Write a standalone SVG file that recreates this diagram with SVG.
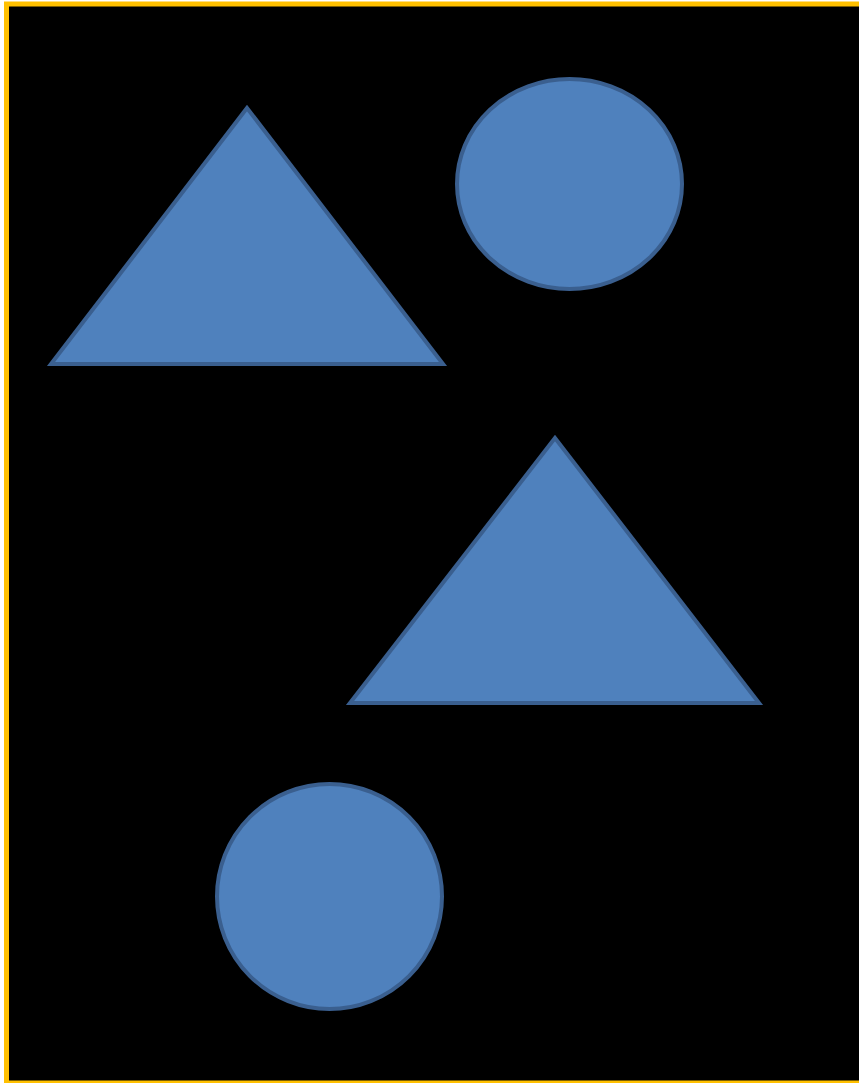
<svg xmlns="http://www.w3.org/2000/svg" width="859" height="1083" viewBox="0 0 859 1083">
<style>
.shape{fill:#4F81BD;stroke:#3A5F8F;stroke-width:4;stroke-linejoin:miter}
</style>
<rect x="0" y="0" width="859" height="1083" fill="#ffffff"/>
<rect id="frame" x="6.5" y="4" width="900" height="1079" fill="#000000" stroke="#FFC000" stroke-width="5"/>
<g id="triangle1"><polygon class="shape" points="247,108 51,364 443,364"/></g>
<g id="ellipse1"><ellipse class="shape" cx="569.5" cy="184" rx="112.5" ry="105"/></g>
<g id="triangle2"><polygon class="shape" points="555,438 350,703 759,703"/></g>
<g id="circle2"><ellipse class="shape" cx="329.5" cy="896.5" rx="112.5" ry="112.5"/></g>
<g id="connectors"></g>
</svg>
